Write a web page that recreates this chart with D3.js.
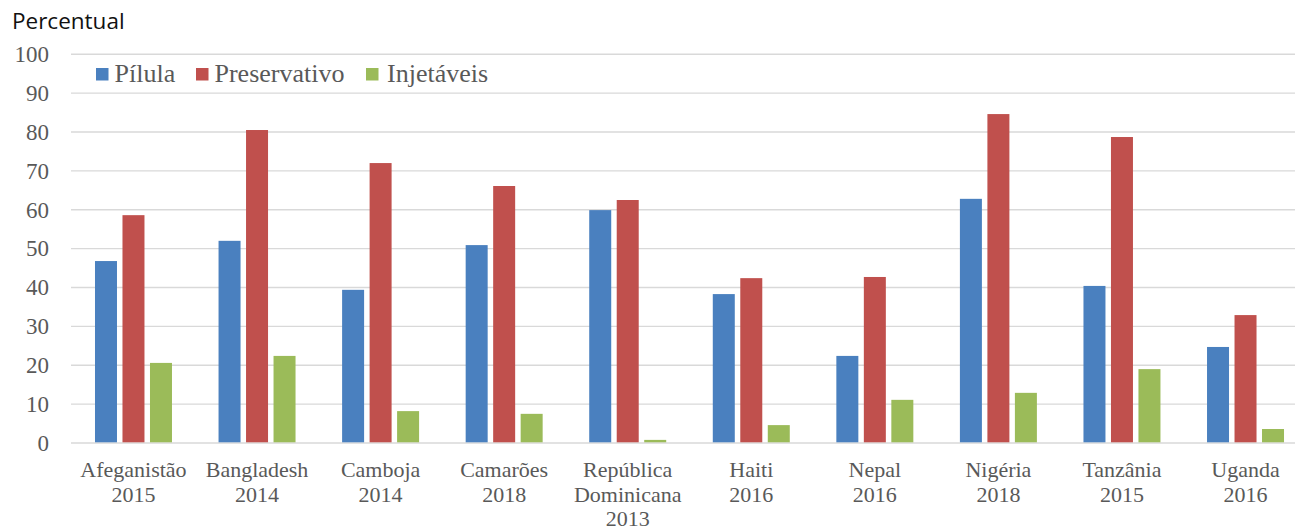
<!DOCTYPE html>
<html><head><meta charset="utf-8">
<script src="https://cdn.jsdelivr.net/npm/d3@7"></script>
<style>html,body{margin:0;padding:0;background:#fff;overflow:hidden}</style>
</head><body>
<svg id="c" width="1295" height="527"></svg>
<script>
const categories = [
  ["Afeganistão","2015"],["Bangladesh","2014"],["Camboja","2014"],["Camarões","2018"],
  ["República","Dominicana","2013"],["Haiti","2016"],["Nepal","2016"],["Nigéria","2018"],
  ["Tanzânia","2015"],["Uganda","2016"]
];
const seriesNames = ["Pílula","Preservativo","Injetáveis"];
const pilula       = [46.8, 52.0, 39.4, 50.9, 59.9, 38.3, 22.4, 62.8, 40.4, 24.7];
const preservativo = [58.6, 80.5, 72.0, 66.1, 62.5, 42.4, 42.7, 84.6, 78.7, 32.9];
const injetaveis   = [20.6, 22.4,  8.2,  7.5,  0.8,  4.6, 11.1, 12.9, 19.0,  3.6];
const yTicks = [0,10,20,30,40,50,60,70,80,90,100];
const colors = ["#4A80BF","#C0504D","#9BBB59"];
const seriesValues = [pilula, preservativo, injetaveis];

const svg = d3.select("#c");
const textCol = "#595959";
const serif = "'Liberation Serif', 'Times New Roman', serif";

const y = d3.scaleLinear().domain([0,100]).range([443, 54.2]);
const x0 = d3.scaleBand().domain(d3.range(categories.length)).range([71.7, 1307.3]).padding(0);
const x1 = d3.scaleBand().domain(d3.range(3)).range([0, x0.bandwidth()]).paddingInner(0.2).paddingOuter(0.847);

// gridlines
svg.append("g").selectAll("line").data(yTicks).join("line")
  .attr("x1", 71).attr("x2", 1295)
  .attr("y1", d => y(d)).attr("y2", d => y(d))
  .attr("stroke", "#d9d9d9").attr("stroke-width", 1.4);

// y labels
svg.append("g").selectAll("text").data(yTicks).join("text")
  .attr("x", 49).attr("y", d => y(d)).attr("dy", "0.34em")
  .attr("text-anchor", "end")
  .attr("font-family", serif).attr("font-size", 23).attr("fill", textCol)
  .text(d => d);

// bars
const g = svg.append("g").selectAll("g").data(categories).join("g")
  .attr("transform", (d,i) => `translate(${x0(i)},0)`);
g.selectAll("rect").data((d,i) => seriesValues.map((s,k) => ({k, v: s[i]}))).join("rect")
  .attr("x", d => x1(d.k)).attr("width", x1.bandwidth())
  .attr("y", d => y(d.v)).attr("height", d => y(0) - y(d.v) - 0.7)
  .attr("fill", d => colors[d.k]);

// category labels
const lab = svg.append("g").selectAll("text").data(categories).join("text")
  .attr("x", (d,i) => x0(i) + x0.bandwidth()/2)
  .attr("y", 477)
  .attr("text-anchor", "middle")
  .attr("font-family", serif).attr("font-size", 22).attr("fill", textCol);
lab.selectAll("tspan").data(d => d).join("tspan")
  .attr("x", function(){ return this.parentNode.getAttribute("x"); })
  .attr("dy", (d,i) => i === 0 ? 0 : 24.5)
  .text(d => d);

// title
svg.append("text").attr("x", 12).attr("y", 29)
  .attr("font-family", "'Open Sans', sans-serif").attr("font-size", 22.5).attr("fill", "#111")
  .text("Percentual");

// legend
const legX = [96, 196, 366];
const leg = svg.append("g").selectAll("g").data(seriesNames).join("g")
  .attr("transform", (d,i) => `translate(${legX[i]},68)`);
leg.append("rect").attr("width", 12.5).attr("height", 12.5).attr("fill", (d,i) => colors[i]);
leg.append("text").attr("x", (d,i) => i === 2 ? 21 : 18.5).attr("y", 14)
  .attr("font-family", serif).attr("font-size", 26).attr("fill", textCol)
  .text(d => d);
</script>
</body></html>
